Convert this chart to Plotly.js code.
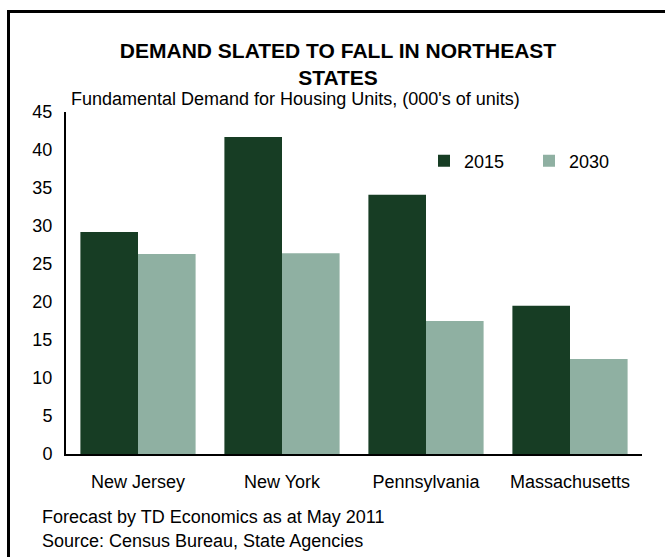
<!DOCTYPE html>
<html>
<head>
<meta charset="utf-8">
<script src="https://cdn.plot.ly/plotly-3.0.1.min.js"></script>
<style>
  html, body { margin: 0; padding: 0; background: #fff; overflow: hidden; }
  #wrap { position: relative; width: 665px; height: 557px; overflow: hidden; }
  #frame { position: absolute; left: 7px; top: 10px; right: 0; bottom: 0;
           border-left: 3px solid #000; border-top: 3px solid #000; pointer-events: none; z-index: 5; }
  #chart { position: absolute; left: 0; top: 0; width: 665px; height: 557px; }
</style>
</head>
<body>
<div id="wrap">
  <div id="chart"></div>
  <div id="frame"></div>
</div>
<script>
const states = ["New Jersey", "New York", "Pennsylvania", "Massachusetts"];
const demand2015 = [29.2, 41.7, 34.1, 19.5];
const demand2030 = [26.3, 26.4, 17.5, 12.5];
const yTicks = [0, 5, 10, 15, 20, 25, 30, 35, 40, 45];

const font = "Liberation Sans, Arial, sans-serif";
const W = 665, H = 557;

const traces = [
  { type: "bar", name: "2015", x: states, y: demand2015,
    marker: { color: "#173D24" }, hoverinfo: "x+y" },
  { type: "bar", name: "2030", x: states, y: demand2030,
    marker: { color: "#8FB0A2" }, hoverinfo: "x+y" }
];

const layout = {
  width: W, height: H,
  margin: { l: 66, r: 23, t: 112, b: 103, pad: 0, autoexpand: false },
  paper_bgcolor: "#fff", plot_bgcolor: "#fff",
  font: { family: font, size: 18, color: "#000" },
  barmode: "group", bargap: 0.2, bargroupgap: 0,
  title: {
    text: "<b>DEMAND SLATED TO FALL IN NORTHEAST<br>STATES</b>",
    font: { family: font, size: 21, color: "#000" },
    xref: "container", x: 338 / W, xanchor: "center",
    yref: "container", y: 1 - 58 / H, yanchor: "top"
  },
  xaxis: {
    showline: true, linecolor: "#000", linewidth: 2,
    showgrid: false, zeroline: false, ticks: "",
    ticklabelstandoff: 10,
    tickfont: { family: font, size: 18, color: "#000" }
  },
  yaxis: {
    range: [0, 45], tickvals: yTicks, ticktext: yTicks.map(String),
    showline: true, linecolor: "#000", linewidth: 2,
    showgrid: false, zeroline: false, ticks: "",
    ticklabelstandoff: 8,
    tickfont: { family: font, size: 18, color: "#000" }
  },
  showlegend: true,
  legend: {
    orientation: "h", xref: "container", yref: "container",
    x: 424 / W, xanchor: "left",
    y: 1 - 161 / H, yanchor: "middle",
    font: { family: font, size: 18, color: "#000" },
    bgcolor: "rgba(0,0,0,0)", entrywidth: 60, entrywidthmode: "pixels",
    itemclick: false, itemdoubleclick: false
  },
  annotations: [
    { text: "Fundamental Demand for Housing Units, (000's of units)",
      xref: "paper", yref: "paper", x: (69 - 66) / 576, y: 1 + (112 - 99) / 342,
      xanchor: "left", yanchor: "middle", showarrow: false,
      font: { family: font, size: 18, color: "#000" } },
    { text: "Forecast by TD Economics as at May 2011",
      xref: "paper", yref: "paper", x: (40 - 66) / 576, y: -(517 - 454) / 342,
      xanchor: "left", yanchor: "middle", showarrow: false,
      font: { family: font, size: 18, color: "#000" } },
    { text: "Source: Census Bureau, State Agencies",
      xref: "paper", yref: "paper", x: (40 - 66) / 576, y: -(541 - 454) / 342,
      xanchor: "left", yanchor: "middle", showarrow: false,
      font: { family: font, size: 18, color: "#000" } }
  ]
};

Plotly.newPlot("chart", traces, layout, { displayModeBar: false });
</script>
</body>
</html>
